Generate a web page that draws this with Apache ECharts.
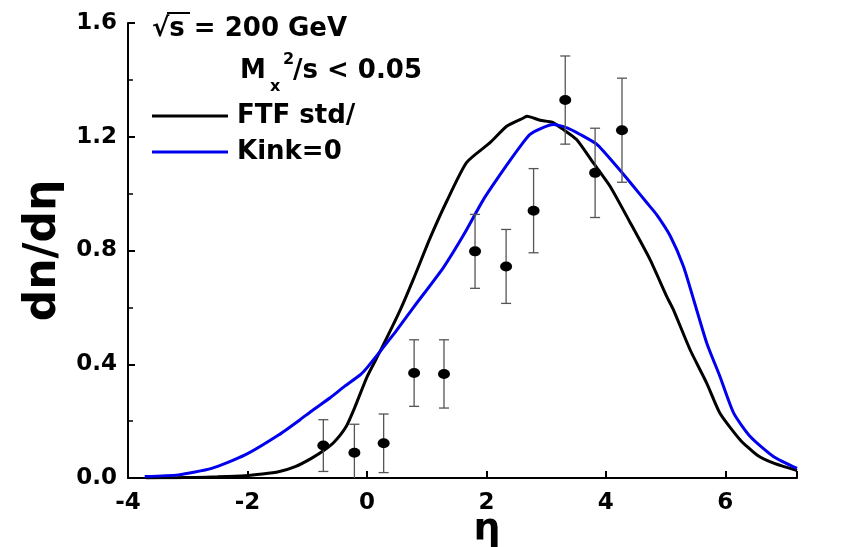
<!DOCTYPE html>
<html>
<head>
<meta charset="utf-8">
<script src="https://cdn.jsdelivr.net/npm/echarts@6/dist/echarts.min.js"></script>
<style>
html,body{margin:0;padding:0;background:#fff;}
#chart{width:854px;height:547px;}
</style>
</head>
<body>
<div id="chart"></div>
<script>
// ---- data ----
var xTickValues = [-4, -2, 0, 2, 4, 6];
var yTickLabels = ['0.0', '0.4', '0.8', '1.2', '1.6'];

var ftfX = [-3.7, -3.2, -2.88, -2.5, -2.04, -1.75, -1.48, -1.2, -0.93, -0.7, -0.54, -0.35, -0.2, 0.0, 0.22, 0.56, 0.78, 1.06, 1.34, 1.67, 2.06, 2.34, 2.62, 2.68, 2.9, 3.1, 3.29, 3.51, 3.79, 4.07, 4.41, 4.74, 5.02, 5.13, 5.41, 5.69, 5.91, 6.25, 6.53, 6.81, 7.2];
var ftfY = [0.0, 0.001, 0.002, 0.004, 0.008, 0.014, 0.022, 0.04, 0.069, 0.1, 0.128, 0.18, 0.25, 0.355, 0.445, 0.592, 0.70, 0.845, 0.975, 1.11, 1.179, 1.237, 1.266, 1.272, 1.258, 1.251, 1.225, 1.19, 1.108, 1.026, 0.897, 0.768, 0.638, 0.592, 0.451, 0.333, 0.228, 0.134, 0.081, 0.052, 0.026];

var kinkX = [-3.72, -3.16, -2.6, -2.04, -1.48, -1.12, -0.93, -0.61, -0.37, -0.11, 0.01, 0.22, 0.5, 0.78, 1.28, 1.62, 1.95, 2.29, 2.57, 2.73, 2.9, 3.12, 3.35, 3.57, 3.85, 4.18, 4.46, 4.69, 4.85, 5.08, 5.3, 5.47, 5.69, 5.91, 6.14, 6.42, 6.81, 7.2];
var kinkY = [0.005, 0.011, 0.034, 0.081, 0.151, 0.205, 0.235, 0.283, 0.323, 0.363, 0.39, 0.445, 0.52, 0.6, 0.74, 0.855, 0.979, 1.085, 1.167, 1.208, 1.228, 1.243, 1.231, 1.208, 1.173, 1.096, 1.026, 0.967, 0.926, 0.85, 0.744, 0.627, 0.474, 0.357, 0.228, 0.145, 0.075, 0.034];

var dataEta = [-0.73, -0.21, 0.28, 0.79, 1.29, 1.81, 2.33, 2.79, 3.32, 3.82, 4.27];
var dataVal = [0.114, 0.089, 0.122, 0.369, 0.366, 0.797, 0.744, 0.940, 1.329, 1.073, 1.223];
var dataErr = [0.091, 0.100, 0.103, 0.117, 0.120, 0.130, 0.130, 0.148, 0.155, 0.157, 0.183];

var seriesNames = ['FTF std/', 'Kink=0'];
var xAxisTitle = 'η';
var yAxisTitle = 'dn/dη';
// ---------------

function pairs(xs, ys) { return xs.map(function (x, i) { return [x, ys[i]]; }); }
var FONT = 'DejaVu Sans';

var chart = echarts.init(document.getElementById('chart'), null, {renderer: 'canvas'});
var option = {
  animation: false,
  backgroundColor: '#ffffff',
  grid: {left: 128, right: 57, top: 23, bottom: 69, containLabel: false, outerBoundsMode: 'none'},
  legend: {
    orient: 'vertical', left: 152, top: 103, padding: 0, itemGap: 10,
    itemWidth: 76, itemHeight: 3, icon: 'rect',
    data: seriesNames,
    textStyle: {fontFamily: FONT, fontWeight: 'bold', fontSize: 26, color: '#000', padding: [0, 0, 0, 4]}
  },
  xAxis: {
    type: 'value', min: -4, max: 7.2, interval: 2,
    axisLine: {onZero: false, lineStyle: {color: '#000', width: 2}},
    axisTick: {inside: true, length: 7, lineStyle: {color: '#000', width: 2}},
    axisLabel: {margin: 14, fontFamily: FONT, fontWeight: 'bold', fontSize: 23, color: '#000',
      formatter: function (v) { return xTickValues.indexOf(v) >= 0 ? String(v) : ''; }},
    splitLine: {show: false}
  },
  yAxis: {
    type: 'value', min: 0, max: 1.6, interval: 0.4,
    name: yAxisTitle, nameLocation: 'middle', nameGap: 62, nameRotate: 90,
    nameTextStyle: {fontFamily: FONT, fontWeight: 'bold', fontSize: 44, color: '#000'},
    axisLine: {onZero: false, lineStyle: {color: '#000', width: 2}},
    axisTick: {inside: true, length: 7, lineStyle: {color: '#000', width: 2}},
    minorTick: {show: true, splitNumber: 2, length: 5, lineStyle: {color: '#000', width: 1.5}},
    axisLabel: {margin: 11, fontFamily: FONT, fontWeight: 'bold', fontSize: 23, color: '#000',
      formatter: function (v) { return yTickLabels[Math.round(v / 0.4)]; }},
    splitLine: {show: false}, minorSplitLine: {show: false}
  },
  series: [
    {name: seriesNames[0], type: 'line', data: pairs(ftfX, ftfY), showSymbol: false, symbol: 'none',
      smooth: 0.2, lineStyle: {color: '#000', width: 3}, itemStyle: {color: '#000'}, z: 2},
    {name: seriesNames[1], type: 'line', data: pairs(kinkX, kinkY), showSymbol: false, symbol: 'none',
      smooth: 0.2, lineStyle: {color: '#0000ee', width: 3}, itemStyle: {color: '#0000ee'}, z: 2},
    {type: 'custom', clip: true, z: 3,
      data: dataEta.map(function (x, i) { return [x, dataVal[i], dataErr[i]]; }),
      renderItem: function (params, api) {
        var x = api.value(0), y = api.value(1), e = api.value(2);
        var top = api.coord([x, y + e]);
        var bot = api.coord([x, y - e]);
        var hw = 5;
        var st = {stroke: '#555', lineWidth: 1.3};
        return {type: 'group', children: [
          {type: 'line', shape: {x1: top[0], y1: top[1], x2: bot[0], y2: bot[1]}, style: st},
          {type: 'line', shape: {x1: top[0] - hw, y1: top[1], x2: top[0] + hw, y2: top[1]}, style: st},
          {type: 'line', shape: {x1: bot[0] - hw, y1: bot[1], x2: bot[0] + hw, y2: bot[1]}, style: st}
        ]};
      }
    },
    {type: 'scatter', data: pairs(dataEta, dataVal), symbol: 'circle', symbolSize: [12, 10],
      itemStyle: {color: '#000', opacity: 1}, z: 4}
  ],
  graphic: [
    {type: 'text', x: 487, y: 529, style: {text: xAxisTitle, fontFamily: FONT, fontWeight: 'bold', fontSize: 38, fill: '#000', align: 'center', verticalAlign: 'middle'}},
    {type: 'text', left: 152, top: 16, style: {text: '√s = 200 GeV', fontFamily: FONT, fontWeight: 'bold', fontSize: 26, fill: '#000'}},
    {type: 'line', shape: {x1: 167, y1: 13, x2: 190, y2: 13}, style: {stroke: '#000', lineWidth: 2}},
    {type: 'text', left: 240, top: 58, style: {text: 'M', fontFamily: FONT, fontWeight: 'bold', fontSize: 26, fill: '#000'}},
    {type: 'text', left: 270, top: 79, style: {text: 'x', fontFamily: FONT, fontWeight: 'bold', fontSize: 16, fill: '#000'}},
    {type: 'text', left: 283, top: 52, style: {text: '2', fontFamily: FONT, fontWeight: 'bold', fontSize: 16, fill: '#000'}},
    {type: 'text', left: 293, top: 58, style: {text: '/s < 0.05', fontFamily: FONT, fontWeight: 'bold', fontSize: 26, fill: '#000'}}
  ]
};
chart.setOption(option);
</script>
</body>
</html>
